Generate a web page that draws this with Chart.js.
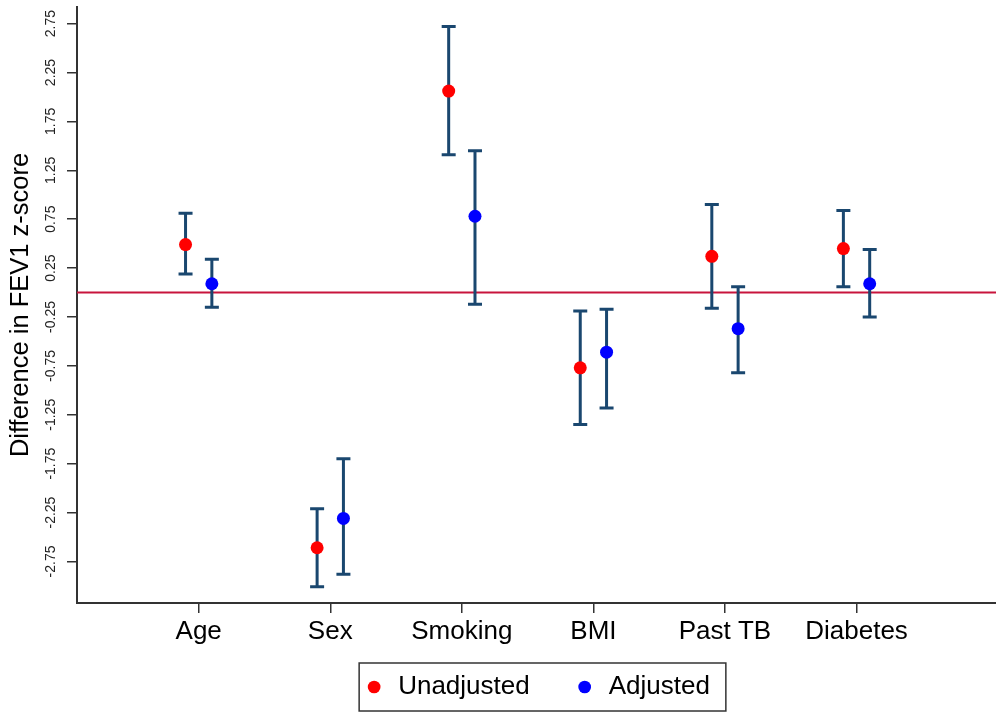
<!DOCTYPE html>
<html>
<head>
<meta charset="utf-8">
<script src="https://cdn.jsdelivr.net/npm/chart.js@4/dist/chart.umd.min.js"></script>
<style>
  body { margin: 0; background: #fff; }
  canvas { display: block; }
</style>
</head>
<body>
<canvas id="fevChart" width="996" height="713"></canvas>
<script>
const categories = ['Age', 'Sex', 'Smoking', 'BMI', 'Past TB', 'Diabetes'];

// unadjusted estimates and 95% CI
const unadjusted = [0.49, -2.61, 2.06, -0.77, 0.37, 0.45];
const unadjLow   = [0.19, -3.01, 1.41, -1.35, -0.16, 0.06];
const unadjHigh  = [0.81, -2.21, 2.72, -0.19, 0.90, 0.84];

// adjusted estimates and 95% CI
const adjusted = [0.09, -2.31, 0.78, -0.61, -0.37, 0.09];
const adjLow   = [-0.15, -2.88, -0.12, -1.18, -0.82, -0.25];
const adjHigh  = [0.34, -1.70, 1.45, -0.17, 0.06, 0.44];

const yTicks = [-2.75, -2.25, -1.75, -1.25, -0.75, -0.25, 0.25, 0.75, 1.25, 1.75, 2.25, 2.75];

const FONT = "'Liberation Sans', Arial, sans-serif";
const barColor = '#1a476f';
const shift = 0.1;

const toPoints = (vals, off) => vals.map((v, i) => ({ x: i + 1 + off, y: v }));

// zero line + CI whiskers, drawn under the points
const errorBars = {
    id: 'errorBars',
    afterLayout(chart) {
        // pull the legend up so it sits just under the category labels
        chart.legend.top -= 18;
    },
    beforeDatasetsDraw(chart) {
        const { ctx, chartArea, scales: { x, y } } = chart;
        ctx.save();
        const y0 = y.getPixelForValue(0);
        ctx.strokeStyle = '#c8143c';
        ctx.lineWidth = 2;
        ctx.beginPath();
        ctx.moveTo(chartArea.left, y0);
        ctx.lineTo(chartArea.right, y0);
        ctx.stroke();

        ctx.strokeStyle = barColor;
        ctx.lineWidth = 3;
        const series = [[unadjLow, unadjHigh, -shift], [adjLow, adjHigh, shift]];
        series.forEach(([lo, hi, off]) => {
            lo.forEach((l, i) => {
                const px = x.getPixelForValue(i + 1 + off);
                const pl = y.getPixelForValue(l);
                const ph = y.getPixelForValue(hi[i]);
                ctx.beginPath();
                ctx.moveTo(px, pl);
                ctx.lineTo(px, ph);
                ctx.moveTo(px - 7, pl);
                ctx.lineTo(px + 7, pl);
                ctx.moveTo(px - 7, ph);
                ctx.lineTo(px + 7, ph);
                ctx.stroke();
            });
        });
        ctx.restore();
    },
    afterDraw(chart) {
        // frame around the legend
        const hb = chart.legend.legendHitBoxes;
        if (!hb || !hb.length) return;
        const last = hb[hb.length - 1];
        const cy = hb[0].top + hb[0].height / 2;
        const ctx = chart.ctx;
        ctx.save();
        ctx.strokeStyle = '#333';
        ctx.lineWidth = 1.5;
        ctx.strokeRect(hb[0].left - 4, cy - 24, last.left + last.width + 16 - (hb[0].left - 4), 48);
        ctx.restore();
    }
};

const ctx = document.getElementById('fevChart').getContext('2d');
const fevChart = new Chart(ctx, {
    type: 'scatter',
    data: {
        datasets: [
            {
                label: 'Unadjusted',
                data: toPoints(unadjusted, -shift),
                backgroundColor: '#ff0000',
                borderColor: '#ff0000',
                pointRadius: 6.5,
                pointBorderWidth: 0
            },
            {
                label: 'Adjusted',
                data: toPoints(adjusted, shift),
                backgroundColor: '#0000ff',
                borderColor: '#0000ff',
                pointRadius: 6.5,
                pointBorderWidth: 0
            }
        ]
    },
    options: {
        responsive: false,
        animation: false,
        layout: { autoPadding: false, padding: { top: 7, right: 0, left: 0, bottom: 3 } },
        plugins: {
            tooltip: { enabled: false },
            legend: {
                position: 'bottom',
                fullSize: false,
                maxHeight: 62,
                labels: {
                    usePointStyle: true,
                    pointStyle: 'circle',
                    boxWidth: 22,
                    boxHeight: 9,
                    padding: 44,
                    color: '#000',
                    font: { family: FONT, size: 26 }
                }
            }
        },
        scales: {
            x: {
                type: 'linear',
                min: 0.075,
                max: 7.06,
                afterBuildTicks: (scale) => {
                    scale.ticks = categories.map((c, i) => ({ value: i + 1 }));
                },
                afterFit: (scale) => {
                    scale.height = 45;
                    scale.paddingLeft = 0;
                    scale.paddingRight = 0;
                },
                ticks: {
                    padding: 3,
                    color: '#000',
                    font: { family: FONT, size: 26 },
                    callback: (v) => categories[v - 1]
                },
                grid: { drawOnChartArea: false, tickLength: 10, color: '#333', lineWidth: 1.5 },
                border: { color: '#333', width: 2 }
            },
            y: {
                min: -3.175,
                max: 2.92,
                afterBuildTicks: (scale) => {
                    scale.ticks = yTicks.map(v => ({ value: v }));
                },
                afterFit: (scale) => {
                    scale.width = 77;
                    scale.paddingTop = 0;
                    scale.paddingBottom = 0;
                },
                ticks: {
                    minRotation: 90,
                    maxRotation: 90,
                    crossAlign: 'center',
                    padding: 0,
                    color: '#222',
                    font: { family: FONT, size: 14 },
                    callback: (v) => v.toFixed(2)
                },
                grid: { drawOnChartArea: false, tickLength: 10, color: '#333', lineWidth: 1.5 },
                border: { color: '#333', width: 2 },
                title: {
                    display: true,
                    text: 'Difference in FEV1 z-score',
                    color: '#000',
                    font: { family: FONT, size: 25.5 },
                    padding: { top: 6, bottom: 0 }
                }
            }
        }
    },
    plugins: [errorBars]
});
</script>
</body>
</html>
